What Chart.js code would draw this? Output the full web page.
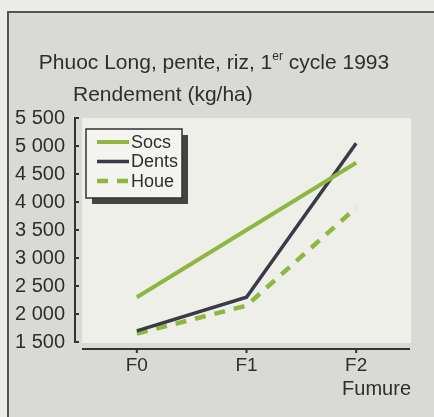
<!DOCTYPE html>
<html>
<head>
    <meta charset="utf-8" />
    <title>Phuoc Long, pente, riz</title>
    <style>
        body { margin: 0; background: #ececea; }
        canvas { display: block; }
    </style>
</head>
<body>
    <canvas id="rendementChart" width="434" height="417"></canvas>

    <script src="https://cdn.jsdelivr.net/npm/chart.js"></script>
    <script>
        // valeurs
        const categories = ['F0', 'F1', 'F2'];
        const socs = [2300, 3500, 4700];
        const dents = [1700, 2300, 5050];
        const houe = [1650, 2150, 3900];
        const yTicks = [1500, 2000, 2500, 3000, 3500, 4000, 4500, 5000, 5500];

        const FONT = 'Liberation Sans, Arial, sans-serif';
        const TEXT = '#2e2e2e';
        const GREEN = '#8fb640';
        const DARK = '#3a3a48';

        function fmt(v) {
            return String(v).replace(/\B(?=(\d{3})+(?!\d))/g, ' ');
        }

        // fond, cadre, titre, axes et legende
        const decor = {
            id: 'decor',
            beforeDraw(chart) {
                const ctx = chart.ctx;
                const a = chart.chartArea;
                ctx.save();
                ctx.fillStyle = '#ececea';
                ctx.fillRect(0, 0, chart.width, chart.height);
                ctx.fillStyle = '#d9d9d6';
                ctx.fillRect(7, 11, chart.width - 7, chart.height - 11);
                ctx.strokeStyle = '#555';
                ctx.lineWidth = 2;
                ctx.beginPath();
                ctx.moveTo(8, chart.height);
                ctx.lineTo(8, 12);
                ctx.lineTo(chart.width, 12);
                ctx.stroke();
                ctx.fillStyle = '#efefe9';
                ctx.fillRect(a.left, a.top, a.right - a.left, a.bottom - a.top + 1);

                // titre avec exposant
                ctx.fillStyle = TEXT;
                ctx.textBaseline = 'middle';
                ctx.font = '21px ' + FONT;
                const p1 = 'Phuoc Long, pente, riz, 1';
                const p3 = ' cycle 1993';
                const w1 = ctx.measureText(p1).width;
                const w3 = ctx.measureText(p3).width;
                ctx.font = '12px ' + FONT;
                const w2 = ctx.measureText('er').width;
                let x = 214 - (w1 + w2 + w3) / 2;
                ctx.textAlign = 'left';
                ctx.font = '21px ' + FONT;
                ctx.fillText(p1, x, 63);
                ctx.font = '12px ' + FONT;
                ctx.fillText('er', x + w1, 57);
                ctx.font = '21px ' + FONT;
                ctx.fillText(p3, x + w1 + w2, 63);
                ctx.fillText('Rendement (kg/ha)', 73, 95);
                ctx.restore();
            },
            afterDraw(chart) {
                const ctx = chart.ctx;
                const a = chart.chartArea;
                const xs = chart.scales.x;
                const ys = chart.scales.y;
                ctx.save();
                ctx.strokeStyle = '#333';
                ctx.lineWidth = 2;
                // axe des y
                ctx.beginPath();
                ctx.moveTo(75, ys.getPixelForValue(5500) - 1);
                ctx.lineTo(75, ys.getPixelForValue(1500) + 1);
                yTicks.forEach(v => {
                    const y = ys.getPixelForValue(v);
                    ctx.moveTo(75, y);
                    ctx.lineTo(79, y);
                });
                ctx.stroke();
                // axe des x
                ctx.beginPath();
                ctx.moveTo(a.left, 349);
                ctx.lineTo(a.right - 1, 349);
                categories.forEach((c, i) => {
                    const px = xs.getPixelForValue(i);
                    ctx.moveTo(px, 349);
                    ctx.lineTo(px, 353);
                });
                ctx.stroke();

                // legende
                const lx = 86, ly = 129, lw = 96, lh = 69;
                ctx.fillStyle = '#444';
                ctx.fillRect(lx + 6, ly + 6, lw, lh);
                ctx.fillStyle = '#f4f4f0';
                ctx.fillRect(lx, ly, lw, lh);
                ctx.lineWidth = 1.5;
                ctx.strokeStyle = '#333';
                ctx.strokeRect(lx, ly, lw, lh);
                ctx.font = '18px ' + FONT;
                ctx.textAlign = 'left';
                ctx.textBaseline = 'middle';
                chart.data.datasets.forEach((ds, i) => {
                    const y = 142 + i * 19.5;
                    ctx.strokeStyle = ds.borderColor;
                    ctx.lineWidth = ds.borderWidth;
                    ctx.setLineDash(ds.borderDash || []);
                    ctx.beginPath();
                    ctx.moveTo(97, y);
                    ctx.lineTo(129, y);
                    ctx.stroke();
                    ctx.setLineDash([]);
                    ctx.fillStyle = TEXT;
                    ctx.fillText(ds.label, 131, y + 1);
                });
                ctx.restore();
            }
        };

        const chart = new Chart(document.getElementById('rendementChart'), {
            type: 'line',
            data: {
                labels: categories,
                datasets: [
                    { label: 'Socs', data: socs, borderColor: GREEN, borderWidth: 4 },
                    { label: 'Dents', data: dents, borderColor: DARK, borderWidth: 3.5 },
                    { label: 'Houe', data: houe, borderColor: GREEN, borderWidth: 4.5, borderDash: [11, 9] }
                ]
            },
            options: {
                responsive: false,
                animation: false,
                layout: { padding: { top: 118, right: 23, left: 0, bottom: 0 } },
                elements: {
                    point: { radius: 0 },
                    line: { tension: 0, borderCapStyle: 'butt' }
                },
                plugins: {
                    legend: { display: false },
                    tooltip: { enabled: false }
                },
                scales: {
                    x: {
                        offset: true,
                        grid: { display: false, drawTicks: false },
                        border: { display: false },
                        ticks: { color: TEXT, font: { family: FONT, size: 19 }, padding: 12 },
                        title: {
                            display: true, text: 'Fumure', align: 'end', color: TEXT,
                            font: { family: FONT, size: 20 }, padding: { top: 0, bottom: 16 }
                        },
                        afterFit(s) { s.height = 75; }
                    },
                    y: {
                        min: 1500,
                        max: 5500,
                        grid: { display: false, drawTicks: false },
                        border: { display: false },
                        afterBuildTicks(s) { s.ticks = yTicks.map(v => ({ value: v })); },
                        ticks: {
                            color: TEXT, font: { family: FONT, size: 20 }, padding: 17,
                            callback: v => fmt(v)
                        },
                        afterFit(s) { s.width = 82; }
                    }
                }
            },
            plugins: [decor]
        });
    </script>
</body>
</html>
